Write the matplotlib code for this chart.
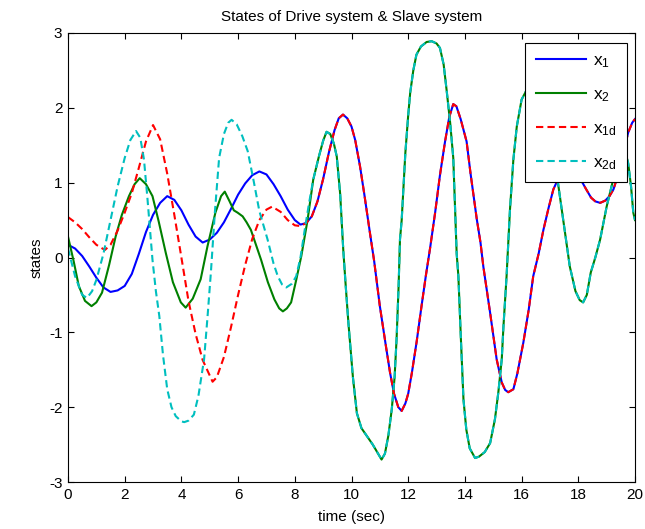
import matplotlib
matplotlib.use("Agg")
import matplotlib.pyplot as plt

plt.rcParams["font.family"] = ["Liberation Sans", "DejaVu Sans"]
plt.rcParams["axes.unicode_minus"] = False

# drive-system states before synchronisation
t_x1 = [0.0, 0.25, 0.5, 0.75, 1.0, 1.25, 1.5, 1.75, 2.0, 2.25, 2.5, 2.75, 3.0, 3.25,
        3.5, 3.75, 4.0, 4.25, 4.5, 4.75, 5.0, 5.25, 5.5, 5.75, 6.0, 6.25, 6.5, 6.75,
        7.0, 7.25, 7.5, 7.75, 8.0, 8.2]
x1 = [0.17, 0.12, 0.02, -0.12, -0.27, -0.40, -0.46, -0.44, -0.38, -0.22, 0.05, 0.34,
      0.57, 0.73, 0.82, 0.77, 0.63, 0.44, 0.28, 0.20, 0.24, 0.33, 0.47, 0.65, 0.84,
      0.99, 1.10, 1.15, 1.11, 0.98, 0.82, 0.64, 0.50, 0.44]

t_x2 = [0.0, 0.2, 0.38, 0.6, 0.83, 1.0, 1.2, 1.45, 1.68, 1.9, 2.15, 2.35, 2.53, 2.75,
        2.98, 3.2, 3.45, 3.7, 3.98, 4.15, 4.4, 4.68, 4.92, 5.2, 5.4, 5.53, 5.7, 5.85,
        5.98, 6.16, 6.3, 6.45, 6.65, 6.81, 7.05, 7.28, 7.45, 7.58, 7.72, 7.87, 8.05,
        8.23, 8.45]
x2 = [0.28, -0.05, -0.38, -0.58, -0.65, -0.60, -0.47, -0.10, 0.28, 0.57, 0.82, 0.98,
      1.06, 0.98, 0.82, 0.48, 0.06, -0.33, -0.60, -0.67, -0.55, -0.29, 0.15, 0.60,
      0.82, 0.88, 0.75, 0.63, 0.60, 0.55, 0.47, 0.37, 0.15, -0.03, -0.33, -0.56,
      -0.68, -0.72, -0.68, -0.60, -0.30, 0.02, 0.50]

# slave-system states before synchronisation
t_x1d = [0.0, 0.25, 0.5, 0.75, 1.0, 1.3, 1.5, 1.75, 2.0, 2.25, 2.5, 2.75, 3.0, 3.25,
         3.5, 3.75, 4.0, 4.25, 4.5, 4.75, 5.1, 5.25, 5.5, 5.75, 6.0, 6.25, 6.5, 6.75,
         7.0, 7.2, 7.5, 7.75, 8.0, 8.2]
x1d = [0.54, 0.47, 0.38, 0.27, 0.17, 0.10, 0.17, 0.36, 0.60, 0.86, 1.20, 1.55, 1.77,
       1.58, 1.12, 0.57, 0.00, -0.58, -1.02, -1.37, -1.66, -1.60, -1.33, -0.93, -0.50,
       -0.10, 0.25, 0.50, 0.64, 0.68, 0.61, 0.50, 0.43, 0.42]

t_x2d = [0.0, 0.25, 0.5, 0.67, 0.85, 1.0, 1.25, 1.5, 1.75, 2.0, 2.2, 2.4, 2.55, 2.68,
         2.8, 2.98, 3.1, 3.22, 3.35, 3.5, 3.65, 3.8, 4.0, 4.1, 4.25, 4.44, 4.6, 4.8,
         4.92, 5.04, 5.18, 5.33, 5.5, 5.65, 5.77, 5.95, 6.15, 6.34, 6.55, 6.75, 7.04,
         7.25, 7.4, 7.55, 7.7, 7.9, 8.05, 8.2, 8.35, 8.5]
x2d = [0.12, -0.25, -0.50, -0.54, -0.45, -0.30, 0.05, 0.50, 0.95, 1.33, 1.57, 1.69,
       1.60, 1.31, 0.80, -0.03, -0.45, -0.78, -1.30, -1.76, -2.00, -2.12, -2.19, -2.20,
       -2.18, -2.10, -1.85, -1.36, -0.80, -0.20, 0.60, 1.33, 1.65, 1.80, 1.84, 1.78,
       1.62, 1.42, 1.02, 0.62, 0.24, -0.08, -0.25, -0.36, -0.40, -0.35, -0.25, 0.00,
       0.37, 0.72]

# after synchronisation x1 = x1d and x2 = x2d
t_sync1 = [8.4, 8.6, 8.8, 9.0, 9.2, 9.4, 9.55, 9.7, 9.85, 10.0, 10.13, 10.3, 10.45,
           10.65, 10.8, 11.0, 11.2, 11.36, 11.5, 11.65, 11.77, 11.9, 12.0, 12.13, 12.3,
           12.47, 12.62, 12.77, 12.95, 13.12, 13.3, 13.45, 13.59, 13.7, 13.85, 14.06,
           14.2, 14.42, 14.55, 14.65, 14.89, 15.12, 15.3, 15.42, 15.53, 15.71, 15.85,
           16.06, 16.25, 16.41, 16.6, 16.77, 16.95, 17.12, 17.3, 17.45, 17.65, 17.85,
           18.06, 18.25, 18.45, 18.6, 18.77, 18.95, 19.1, 19.24, 19.4, 19.6, 19.76,
           19.9, 20.0]
sync1 = [0.46, 0.55, 0.75, 1.05, 1.40, 1.70, 1.86, 1.91, 1.86, 1.75, 1.57, 1.22, 0.85,
         0.33, -0.05, -0.65, -1.15, -1.54, -1.82, -2.00, -2.05, -1.95, -1.82, -1.54,
         -1.12, -0.65, -0.25, 0.12, 0.60, 1.10, 1.55, 1.88, 2.05, 2.02, 1.85, 1.55,
         1.12, 0.51, 0.20, -0.12, -0.74, -1.36, -1.67, -1.77, -1.80, -1.76, -1.55,
         -1.14, -0.70, -0.25, 0.05, 0.37, 0.66, 0.91, 1.06, 1.15, 1.20, 1.16, 1.06,
         0.93, 0.80, 0.75, 0.73, 0.76, 0.82, 0.91, 1.10, 1.42, 1.67, 1.80, 1.85]

t_sync2 = [8.65, 8.85, 9.0, 9.12, 9.25, 9.38, 9.48, 9.6, 9.71, 9.8, 9.89, 10.05, 10.19,
           10.35, 10.53, 10.75, 10.95, 11.06, 11.18, 11.3, 11.42, 11.52, 11.59, 11.66,
           11.71, 11.77, 11.9, 12.0, 12.07, 12.18, 12.29, 12.45, 12.65, 12.83, 13.0,
           13.12, 13.25, 13.36, 13.48, 13.59, 13.65, 13.71, 13.77, 13.86, 13.95, 14.05,
           14.17, 14.36, 14.5, 14.7, 14.89, 15.06, 15.18, 15.3, 15.36, 15.47, 15.59,
           15.71, 15.83, 16.0, 16.18, 16.35, 16.5, 16.7, 16.9, 17.08, 17.26, 17.45,
           17.7, 17.9, 18.05, 18.17, 18.3, 18.44, 18.6, 18.77, 19.0, 19.23, 19.4,
           19.55, 19.68, 19.76, 19.86, 19.94, 20.0]
sync2 = [1.04, 1.35, 1.56, 1.68, 1.65, 1.52, 1.35, 0.85, 0.10, -0.40, -0.87, -1.60,
         -2.08, -2.28, -2.38, -2.50, -2.63, -2.70, -2.62, -2.38, -2.03, -1.60, -1.09,
         -0.40, 0.24, 0.50, 1.40, 1.90, 2.20, 2.50, 2.71, 2.82, 2.88, 2.89, 2.86, 2.80,
         2.58, 2.22, 1.80, 1.33, 0.70, 0.05, -0.25, -1.10, -1.90, -2.30, -2.55, -2.68,
         -2.66, -2.60, -2.48, -2.16, -1.80, -1.36, -0.92, -0.25, 0.64, 1.31, 1.75, 2.11,
         2.24, 2.32, 2.33, 2.20, 1.90, 1.50, 1.06, 0.55, -0.12, -0.45, -0.57, -0.60,
         -0.50, -0.20, 0.00, 0.24, 0.68, 1.04, 1.32, 1.45, 1.38, 1.26, 0.95, 0.60, 0.50]

series = [
    ("$\\mathregular{x_1}$", t_x1 + t_sync1, x1 + sync1, "#0000ff", "-"),
    ("$\\mathregular{x_2}$", t_x2 + t_sync2, x2 + sync2, "#008000", "-"),
    ("$\\mathregular{x_{1d}}$", t_x1d + t_sync1, x1d + sync1, "#ff0000", "--"),
    ("$\\mathregular{x_{2d}}$", t_x2d + t_sync2, x2d + sync2, "#00bfbf", "--"),
]

fig = plt.figure(figsize=(6.45, 5.29), dpi=100)
ax = fig.add_axes([68 / 645, 47 / 529, 567 / 645, 449 / 529])

for label, t, v, color, style in series:
    line, = ax.plot(t, v, color=color, linestyle=style, linewidth=1.5, label=label)
    if style == "--":
        line.set_dashes((3.5, 2.0))

ax.set_xlim(0, 20)
ax.set_ylim(-3, 3)
ax.set_xticks(range(0, 21, 2))
ax.set_yticks(range(-3, 4))
ax.tick_params(direction="in", top=True, right=True, length=4.5, width=0.8,
               labelsize=11, pad=4)
for side in ax.spines.values():
    side.set_linewidth(0.8)

ax.set_title("States of Drive system & Slave system", fontsize=11, pad=9)
ax.set_xlabel("time (sec)", fontsize=11, labelpad=6)
ax.set_ylabel("states", fontsize=11, labelpad=4)

leg = ax.legend(loc="upper right", bbox_to_anchor=(0.986, 0.978), borderaxespad=0.0,
                fontsize=12.5, handlelength=2.9, handletextpad=0.4, labelspacing=0.98,
                borderpad=0.6, fancybox=False, edgecolor="black", framealpha=1.0)
leg.get_frame().set_linewidth(0.8)

fig.savefig("out.png", dpi=100, facecolor="white")
